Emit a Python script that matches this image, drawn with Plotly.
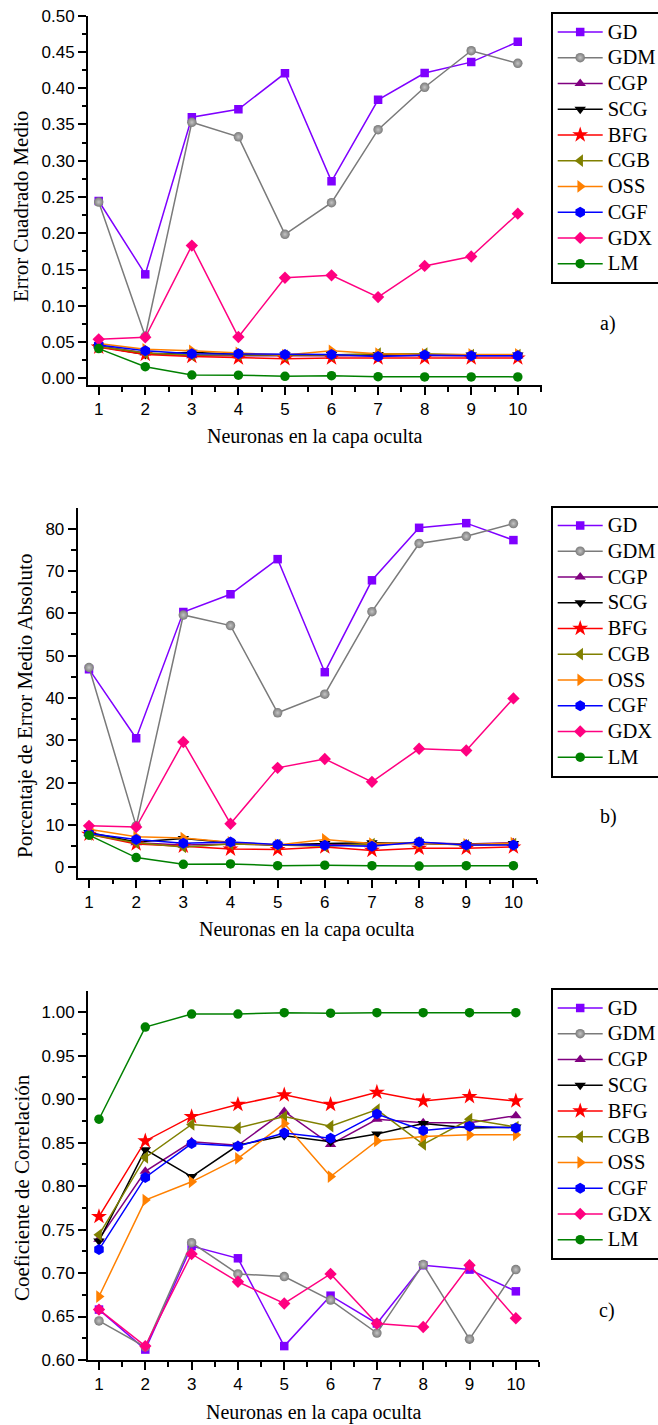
import plotly.graph_objects as go

neurons = [1, 2, 3, 4, 5, 6, 7, 8, 9, 10]
methods = ["GD", "GDM", "CGP", "SCG", "BFG", "CGB", "OSS", "CGF", "GDX", "LM"]

# a) Error Cuadrado Medio
mse_GD = [0.2445, 0.1434, 0.360, 0.371, 0.4206, 0.2716, 0.384, 0.421, 0.436, 0.464]
mse_GDM = [0.243, 0.058, 0.353, 0.333, 0.1985, 0.2422, 0.3428, 0.4013, 0.4517, 0.4343]
mse_CGP = [0.045, 0.035, 0.031, 0.031, 0.030, 0.030, 0.030, 0.031, 0.031, 0.031]
mse_SCG = [0.044, 0.033, 0.036, 0.033, 0.032, 0.033, 0.033, 0.032, 0.032, 0.032]
mse_BFG = [0.043, 0.033, 0.030, 0.028, 0.027, 0.028, 0.028, 0.028, 0.028, 0.028]
mse_CGB = [0.044, 0.035, 0.032, 0.032, 0.031, 0.032, 0.034, 0.034, 0.032, 0.032]
mse_OSS = [0.048, 0.040, 0.038, 0.035, 0.032, 0.038, 0.034, 0.033, 0.033, 0.033]
mse_CGF = [0.046, 0.038, 0.034, 0.034, 0.033, 0.033, 0.030, 0.032, 0.031, 0.031]
mse_GDX = [0.0538, 0.0565, 0.183, 0.057, 0.1387, 0.142, 0.112, 0.155, 0.168, 0.227]
mse_LM = [0.041, 0.016, 0.0046, 0.0044, 0.0028, 0.0036, 0.0022, 0.0020, 0.0020, 0.0020]

# b) Porcentaje de Error Medio Absoluto
mape_GD = [46.8, 30.5, 60.3, 64.5, 72.8, 46.1, 67.8, 80.2, 81.3, 77.3]
mape_GDM = [47.2, 9.8, 59.6, 57.1, 36.5, 40.9, 60.4, 76.5, 78.2, 81.2]
mape_CGP = [8.0, 5.8, 5.3, 5.5, 5.3, 5.5, 5.3, 5.8, 5.5, 5.8]
mape_SCG = [8.2, 6.0, 6.8, 5.8, 5.2, 5.6, 5.8, 5.6, 5.4, 5.6]
mape_BFG = [7.8, 5.5, 5.0, 4.3, 4.2, 4.8, 4.0, 4.5, 4.5, 4.8]
mape_CGB = [7.8, 5.8, 4.8, 5.5, 5.3, 5.0, 5.5, 5.8, 5.2, 5.5]
mape_OSS = [9.0, 7.2, 6.9, 5.9, 5.3, 6.6, 5.6, 5.7, 5.4, 5.7]
mape_CGF = [8.0, 6.6, 5.7, 6.0, 5.4, 5.2, 5.0, 6.0, 5.3, 5.3]
mape_GDX = [9.8, 9.5, 29.6, 10.3, 23.5, 25.6, 20.2, 28.0, 27.6, 39.9]
mape_LM = [7.6, 2.3, 0.7, 0.8, 0.4, 0.5, 0.4, 0.3, 0.4, 0.4]

# c) Coeficiente de Correlación
r_GD = [0.658, 0.612, 0.731, 0.717, 0.616, 0.674, 0.642, 0.709, 0.704, 0.679]
r_GDM = [0.645, 0.615, 0.735, 0.699, 0.696, 0.669, 0.631, 0.710, 0.624, 0.704]
r_CGP = [0.739, 0.817, 0.851, 0.847, 0.886, 0.848, 0.877, 0.873, 0.873, 0.881]
r_SCG = [0.737, 0.842, 0.811, 0.847, 0.858, 0.851, 0.860, 0.872, 0.867, 0.868]
r_BFG = [0.765, 0.852, 0.880, 0.894, 0.905, 0.894, 0.908, 0.898, 0.903, 0.898]
r_CGB = [0.744, 0.833, 0.871, 0.867, 0.880, 0.869, 0.888, 0.848, 0.877, 0.868]
r_OSS = [0.673, 0.784, 0.805, 0.832, 0.872, 0.811, 0.852, 0.857, 0.859, 0.859]
r_CGF = [0.727, 0.810, 0.849, 0.846, 0.861, 0.855, 0.883, 0.864, 0.869, 0.867]
r_GDX = [0.658, 0.616, 0.722, 0.690, 0.665, 0.699, 0.642, 0.638, 0.709, 0.648]
r_LM = [0.877, 0.983, 0.998, 0.998, 0.9995, 0.999, 0.9995, 0.9995, 0.9995, 0.9995]

panel_data = [
    [mse_GD, mse_GDM, mse_CGP, mse_SCG, mse_BFG, mse_CGB, mse_OSS, mse_CGF, mse_GDX, mse_LM],
    [mape_GD, mape_GDM, mape_CGP, mape_SCG, mape_BFG, mape_CGB, mape_OSS, mape_CGF, mape_GDX, mape_LM],
    [r_GD, r_GDM, r_CGP, r_SCG, r_BFG, r_CGB, r_OSS, r_CGF, r_GDX, r_LM],
]
y_titles = ["Error Cuadrado Medio", "Porcentaje de Error Medio Absoluto", "Coeficiente de Correlación"]
x_title = "Neuronas en la capa oculta"
panel_tags = ["a)", "b)", "c)"]

colors = {"GD": "#7F00FF", "GDM": "#7a7a7a", "CGP": "#800080", "SCG": "#000000",
          "BFG": "#FF0000", "CGB": "#808000", "OSS": "#FF8000", "CGF": "#0000FF",
          "GDX": "#FF0080", "LM": "#008000"}
symbols = {"GD": "square", "GDM": "circle", "CGP": "triangle-up", "SCG": "triangle-down",
           "BFG": "star", "CGB": "triangle-left", "OSS": "triangle-right", "CGF": "hexagon",
           "GDX": "diamond", "LM": "circle"}
sizes = {"GD": 8.5, "GDM": 9.5, "CGP": 10, "SCG": 10, "BFG": 12, "CGB": 11, "OSS": 11,
         "CGF": 11, "GDX": 9.5, "LM": 9.5}

W, H = 658, 1425
# plot areas in pixels: (left, right, top, bottom)
areas = [(88, 542, 15.7, 385), (77.7, 537, 507.7, 877.7), (88, 539, 991, 1360)]
x_ranges = [[0.77, 10.52], [0.76, 10.5], [0.763, 10.5]]
y_ranges = [[-0.0092, 0.5], [-2.45, 84.95], [0.6, 1.0245]]
y_dticks = [0.05, 10, 0.05]
y_formats = [".2f", "d", ".2f"]
legend_tops = [12, 505.5, 988]
legend_left = 550.7
ytitle_pos = [(21, 207), (25, 706), (22, 1188)]
xtitle_y = [437, 929, 1412]
tag_pos = [(607.7, 323.3), (608, 816.7), (607, 1310)]

fig = go.Figure()
legend_names = ["legend", "legend2", "legend3"]

for p in range(3):
    xa = "x" if p == 0 else f"x{p + 1}"
    ya = "y" if p == 0 else f"y{p + 1}"
    for m, vals in zip(methods, panel_data[p]):
        marker = dict(symbol=symbols[m], size=sizes[m], color=colors[m], line=dict(width=0))
        if m == "GDM":
            marker["gradient"] = dict(type="radial", color="#c4c4c4")
        fig.add_trace(go.Scatter(
            x=neurons, y=vals, name=f'<span style="font-size:20.5px">{m}</span>',
            mode="lines+markers",
            line=dict(color=colors[m], width=1.5), marker=marker,
            xaxis=xa, yaxis=ya, legend=legend_names[p],
        ))

axis_font = dict(family="Liberation Sans, Arial", size=17, color="black")
serif = "Liberation Serif, Times New Roman"

layout = dict(
    width=W, height=H, margin=dict(l=0, r=0, t=0, b=0, autoexpand=False),
    paper_bgcolor="white", plot_bgcolor="white", showlegend=True,
)

for p in range(3):
    l, r, t, b = areas[p]
    xdom = [l / W, r / W]
    ydom = [1 - b / H, 1 - t / H]
    k = "" if p == 0 else str(p + 1)
    xa = "x" if p == 0 else f"x{p + 1}"
    ya = "y" if p == 0 else f"y{p + 1}"
    layout[f"xaxis{k}"] = dict(
        domain=xdom, anchor=ya, range=x_ranges[p], tick0=1, dtick=1,
        ticks="outside", ticklen=8, tickwidth=1.5, tickcolor="black",
        showline=True, linewidth=2, linecolor="black", showgrid=False, zeroline=False,
        tickfont=axis_font,
        minor=dict(ticks="outside", ticklen=4.5, tickwidth=1.5, tickcolor="black", dtick=0.5, tick0=0.5, showgrid=False),
    )
    layout[f"yaxis{k}"] = dict(
        domain=ydom, anchor=xa, range=y_ranges[p], tick0=0, dtick=y_dticks[p], tickformat=y_formats[p],
        ticks="outside", ticklen=8, tickwidth=1.5, tickcolor="black",
        showline=True, linewidth=2, linecolor="black", showgrid=False, zeroline=False,
        tickfont=axis_font,
        minor=dict(ticks="outside", ticklen=4.5, tickwidth=1.5, tickcolor="black", dtick=y_dticks[p] / 2, showgrid=False),
    )
    # frame axes: top and right with inward ticks
    xt = 4 + p
    yt = 4 + p
    layout[f"xaxis{xt}"] = dict(
        overlaying=xa, anchor=ya, side="top", range=[0, 10], tick0=0, dtick=2,
        ticks="inside", ticklen=8, tickwidth=1.5, tickcolor="black", showticklabels=False,
        showline=True, linewidth=2, linecolor="black", showgrid=False, zeroline=False,
        minor=dict(ticks="inside", ticklen=5, tickwidth=1.5, tickcolor="black", dtick=1, showgrid=False),
        fixedrange=True,
    )
    layout[f"yaxis{yt}"] = dict(
        overlaying=ya, anchor=xa, side="right", range=[0, 10], tick0=0, dtick=1,
        ticks="inside", ticklen=7, tickwidth=1.5, tickcolor="black", showticklabels=False,
        showline=True, linewidth=2, linecolor="black", showgrid=False, zeroline=False,
        fixedrange=True,
    )
    layout[legend_names[p]] = dict(
        x=legend_left / W, y=1 - legend_tops[p] / H, xanchor="left", yanchor="top",
        bordercolor="black", borderwidth=2, bgcolor="white",
        font=dict(family=serif, size=17.5, color="black"),
        itemwidth=45, tracegroupgap=0,
    )

annotations = []
for p in range(3):
    l, r, t, b = areas[p]
    annotations.append(dict(
        text=y_titles[p], x=ytitle_pos[p][0] / W, y=1 - ytitle_pos[p][1] / H,
        xref="paper", yref="paper", showarrow=False, textangle=-90,
        xanchor="center", yanchor="middle", font=dict(family=serif, size=21, color="black"),
    ))
    annotations.append(dict(
        text=x_title, x=((l + r) / 2) / W, y=1 - xtitle_y[p] / H,
        xref="paper", yref="paper", showarrow=False,
        xanchor="center", yanchor="middle", font=dict(family=serif, size=20, color="black"),
    ))
    annotations.append(dict(
        text=panel_tags[p], x=tag_pos[p][0] / W, y=1 - tag_pos[p][1] / H,
        xref="paper", yref="paper", showarrow=False,
        xanchor="center", yanchor="middle", font=dict(family=serif, size=20, color="black"),
    ))
layout["annotations"] = annotations

fig.update_layout(**layout)
fig.write_html(
    "out.html",
    config={"displayModeBar": False},
    post_script="document.body.style.margin='0';document.body.style.overflow='hidden';",
)
